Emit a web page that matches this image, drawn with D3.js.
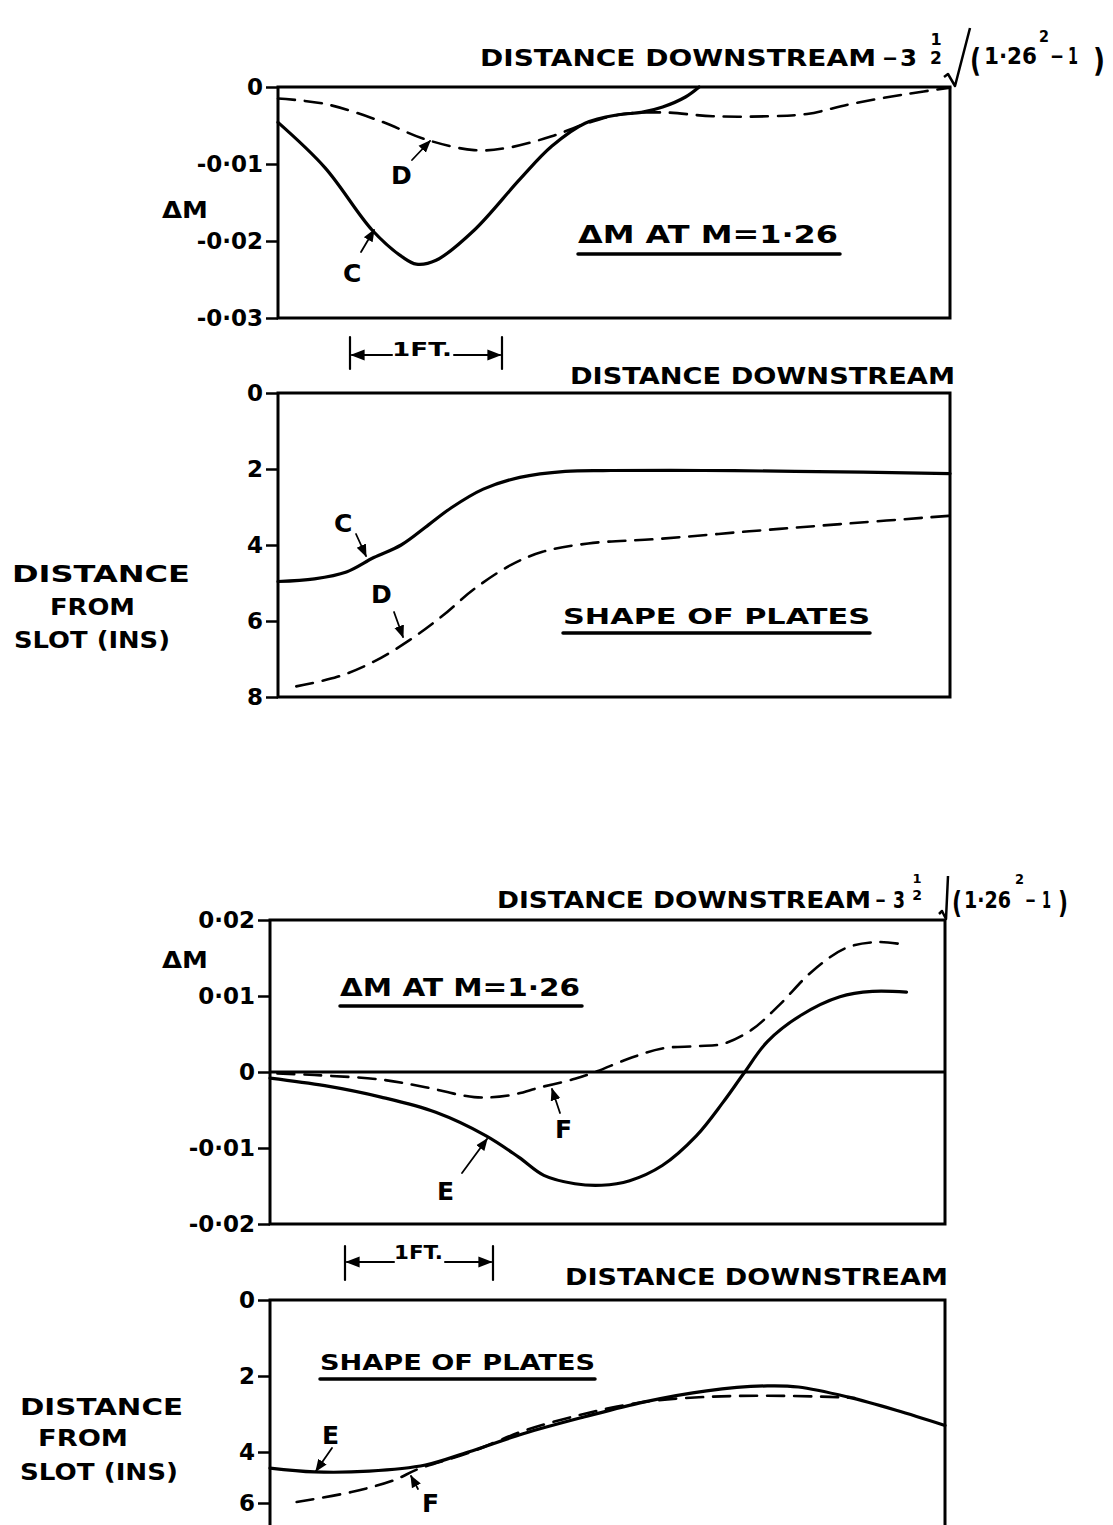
<!DOCTYPE html>
<html><head><meta charset="utf-8">
<script src="https://cdn.jsdelivr.net/npm/d3@7/dist/d3.min.js"></script>
<style>body{margin:0;background:#fff} svg{display:block}</style>
</head><body>
<svg id="c" width="1113" height="1525"></svg>
<script>
// ---------- DATA (x in feet downstream) ----------
// Panel 1: ΔM at M=1.26, curves C (solid) and D (dashed)
const p1_xC = [0,0.31,0.62,0.82,0.91,1.04,1.29,1.59,1.80,2.02,2.24,2.39,2.53,2.68,2.77];
const p1_C  = [-0.0046,-0.0105,-0.0186,-0.0221,-0.0230,-0.0225,-0.0186,-0.0120,-0.0077,-0.0047,-0.0036,-0.0033,-0.0026,-0.0013,0];
const p1_xD = [0,0.31,0.67,0.97,1.29,1.51,1.80,2.02,2.24,2.53,2.86,3.22,3.48,3.77,4.14,4.42];
const p1_D  = [-0.0015,-0.0022,-0.0044,-0.0068,-0.0082,-0.0079,-0.0064,-0.0048,-0.0036,-0.0033,-0.0038,-0.0038,-0.0035,-0.0022,-0.0009,-0.0001];
const p1_ticks = [0,-0.01,-0.02,-0.03];
const p1_tickLabels = ["0","-0·01","-0·02","-0·03"];

// Panel 2: shape of plates C (solid), D (dashed), distance from slot (ins)
const p2_xC = [0,0.24,0.45,0.63,0.81,0.99,1.14,1.35,1.59,1.89,2.19,2.80,3.40,4.42];
const p2_C  = [4.96,4.89,4.71,4.33,4.0,3.47,3.02,2.53,2.22,2.06,2.04,2.04,2.06,2.12];
const p2_xD = [0.12,0.39,0.63,0.87,1.08,1.29,1.53,1.74,2.04,2.50,3.10,3.70,4.42];
const p2_D  = [7.72,7.47,7.07,6.49,5.87,5.16,4.53,4.18,3.96,3.84,3.64,3.45,3.23];
const p2_ticks = [0,2,4,6,8];
const p2_tickLabels = ["0","2","4","6","8"];

// Panel 3: ΔM at M=1.26, curves E (solid) and F (dashed)
const p3_xE = [0,0.37,0.75,1.12,1.46,1.68,1.85,2.06,2.24,2.43,2.65,2.88,3.06,3.20,3.36,3.59,3.85,4.07,4.30];
const p3_E  = [-0.0008,-0.0018,-0.0033,-0.0053,-0.0084,-0.0112,-0.0136,-0.0147,-0.0149,-0.0143,-0.0123,-0.0084,-0.0040,-0.0002,0.0040,0.0075,0.0099,0.0106,0.0105];
const p3_xF = [0.05,0.30,0.75,1.05,1.38,1.61,1.83,2.06,2.21,2.43,2.65,2.88,3.06,3.25,3.44,3.66,3.89,4.11,4.30];
const p3_F  = [-0.0002,-0.0004,-0.0010,-0.0020,-0.0033,-0.0031,-0.0020,-0.0009,0.0001,0.0018,0.0031,0.0034,0.0037,0.0055,0.0088,0.0132,0.0163,0.0171,0.0167];
const p3_ticks = [0.02,0.01,0,-0.01,-0.02];
const p3_tickLabels = ["0·02","0·01","0","-0·01","-0·02"];

// Panel 4: shape of plates E (solid), F (dashed)  (hand-drawn axis: 6 tick closer to 4)
const p4_xE = [0,0.30,0.67,1.05,1.34,1.71,2.12,2.53,2.95,3.36,3.57,3.90,4.23,4.56];
const p4_E  = [4.63,4.78,4.75,4.51,4.0,3.52,3.08,2.68,2.39,2.26,2.29,2.55,2.90,3.30];
const p4_xF = [0.18,0.55,0.84,1.0,1.34,1.71,2.12,2.53,2.95,3.36,3.78,3.95];
const p4_F  = [5.96,5.57,5.10,4.67,4.04,3.45,3.00,2.68,2.55,2.52,2.55,2.58];
const p4_ticks = [0,2,4,6];
const p4_tickLabels = ["0","2","4","6"];

// ---------- DRAWING ----------
const svg = d3.select("#c");
const FONT = "'DejaVu Sans', sans-serif";
svg.append("defs").append("marker").attr("id","ah")
  .attr("viewBox","0 0 10 10").attr("refX",9).attr("refY",5)
  .attr("markerWidth",7).attr("markerHeight",7).attr("orient","auto")
  .append("path").attr("d","M0,1 L10,5 L0,9 z").attr("fill","#000");

function txt(x, y, s, size, opts = {}) {
  const t = svg.append("text").attr("x", x).attr("y", y).text(s)
    .attr("font-family", FONT).attr("font-weight", "bold")
    .attr("font-size", size).attr("fill", "#000")
    .attr("text-anchor", opts.anchor || "start");
  if (opts.w) t.attr("textLength", opts.w).attr("lengthAdjust", "spacingAndGlyphs");
  return t;
}
function line(x1, y1, x2, y2, w, arrow) {
  const l = svg.append("line").attr("x1",x1).attr("y1",y1).attr("x2",x2).attr("y2",y2)
    .attr("stroke","#000").attr("stroke-width",w).attr("stroke-linecap","round");
  if (arrow) l.attr("marker-end","url(#ah)");
  return l;
}

function panel(cfg) {
  const x = d3.scaleLinear().domain([0, cfg.xmax]).range([cfg.left, cfg.right]);
  const y = d3.scaleLinear().domain(cfg.ydom).range(cfg.yrange);
  const top = cfg.yrange[0], bottom = cfg.yrange[cfg.yrange.length - 1];
  const g = svg.append("g");
  g.append("rect").attr("x", cfg.left).attr("y", top)
    .attr("width", cfg.right - cfg.left).attr("height", bottom - top)
    .attr("fill", "none").attr("stroke", "#000").attr("stroke-width", 3);
  const ax = g.append("g").attr("transform", `translate(${cfg.left},0)`)
    .call(d3.axisLeft(y).tickValues(cfg.ticks)
      .tickFormat((d, i) => cfg.tickLabels[i]).tickSize(12).tickPadding(3));
  ax.select(".domain").remove();
  ax.selectAll(".tick line").attr("stroke", "#000").attr("stroke-width", 2.5);
  ax.selectAll(".tick text").attr("font-family", FONT).attr("font-weight", "bold")
    .attr("font-size", 23).attr("fill", "#000");
  if (cfg.zeroLine) {
    g.append("line").attr("x1", cfg.left).attr("x2", cfg.right)
      .attr("y1", y(0)).attr("y2", y(0)).attr("stroke", "#000").attr("stroke-width", 3);
  }
  const gen = d3.line().x(d => x(d[0])).y(d => y(d[1])).curve(d3.curveCatmullRom.alpha(0.5));
  cfg.series.forEach(s => {
    g.append("path").datum(d3.zip(s.x, s.y)).attr("d", gen)
      .attr("fill", "none").attr("stroke", "#000")
      .attr("stroke-width", s.dashed ? 2.6 : 3.2)
      .attr("stroke-dasharray", s.dashed ? "17,10" : null)
      .attr("stroke-linecap", "round");
  });
  return {x, y};
}

panel({xmax: 4.42, left: 278, right: 950, ydom: [0, -0.03], yrange: [87, 318],
  ticks: p1_ticks, tickLabels: p1_tickLabels,
  series: [{x: p1_xC, y: p1_C}, {x: p1_xD, y: p1_D, dashed: true}]});
panel({xmax: 4.42, left: 278, right: 950, ydom: [0, 8], yrange: [393, 697],
  ticks: p2_ticks, tickLabels: p2_tickLabels,
  series: [{x: p2_xC, y: p2_C}, {x: p2_xD, y: p2_D, dashed: true}]});
panel({xmax: 4.56, left: 270, right: 945, ydom: [0.02, -0.02], yrange: [920, 1224],
  ticks: p3_ticks, tickLabels: p3_tickLabels, zeroLine: true,
  series: [{x: p3_xE, y: p3_E}, {x: p3_xF, y: p3_F, dashed: true}]});
panel({xmax: 4.56, left: 270, right: 945, ydom: [0, 4, 6, 8], yrange: [1300, 1452, 1503, 1560],
  ticks: p4_ticks, tickLabels: p4_tickLabels,
  series: [{x: p4_xE, y: p4_E}, {x: p4_xF, y: p4_F, dashed: true}]});

// ---------- TITLES ----------
// top title
txt(480, 66, "DISTANCE  DOWNSTREAM", 23, {w: 396});
txt(882, 66, "−", 23, {w: 16});
txt(900, 66, "3", 23, {w: 17});
txt(936, 45, "1", 16, {anchor: "middle"});
txt(936, 64, "2", 17, {anchor: "middle"});
svg.append("path").attr("d", "M944,77 L948,74 L955,86 L970,28")
  .attr("fill", "none").attr("stroke", "#000").attr("stroke-width", 2.5).attr("stroke-linejoin", "round");
txt(970, 71, "(", 32, {w: 11});
txt(984, 64, "1·26", 23, {w: 53});
txt(1039, 42, "2", 16, {w: 10});
txt(1050, 64, "−", 23, {w: 14});
txt(1068, 64, "1", 23, {w: 10});
txt(1093, 71, ")", 32, {w: 12});
// lower title
txt(497, 908, "DISTANCE  DOWNSTREAM", 23, {w: 374});
txt(875, 908, "−", 23, {w: 11});
txt(893, 908, "3", 23, {w: 12});
txt(917, 883, "1", 13, {anchor: "middle"});
txt(917, 900, "2", 14, {anchor: "middle"});
svg.append("path").attr("d", "M939,914 L942,911 L946,919 L948,876")
  .attr("fill", "none").attr("stroke", "#000").attr("stroke-width", 2.5).attr("stroke-linejoin", "round");
txt(952, 913, "(", 30, {w: 10});
txt(964, 908, "1·26", 23, {w: 47});
txt(1015, 884, "2", 14, {w: 9});
txt(1025, 908, "−", 23, {w: 11});
txt(1042, 908, "1", 23, {w: 9});
txt(1058, 913, ")", 30, {w: 10});

txt(570, 384, "DISTANCE  DOWNSTREAM", 23, {w: 385});
txt(565, 1285, "DISTANCE  DOWNSTREAM", 23, {w: 383});

// ΔM labels
txt(162, 218, "ΔM", 23, {w: 46});
txt(162, 968, "ΔM", 23, {w: 46});

// Y axis labels of plate panels
txt(12, 582, "DISTANCE", 23, {w: 178});
txt(50, 615, "FROM", 23, {w: 85});
txt(14, 648, "SLOT (INS)", 23, {w: 156});
txt(20, 1415, "DISTANCE", 23, {w: 163});
txt(38, 1446, "FROM", 23, {w: 90});
txt(20, 1480, "SLOT (INS)", 23, {w: 158});

// Underlined captions
txt(578, 243, "ΔM  AT  M=1·26", 24, {w: 260});
line(578, 254, 840, 254, 3.5);
txt(563, 624, "SHAPE  OF  PLATES", 22, {w: 307});
line(563, 633, 870, 633, 3.5);
txt(340, 996, "ΔM  AT   M=1·26", 24, {w: 240});
line(340, 1006, 582, 1006, 3.5);
txt(320, 1370, "SHAPE  OF  PLATES", 22, {w: 275});
line(320, 1379, 595, 1379, 3.5);

// 1 FT scale bars
function ftBar(xa, xb, yl, yt, yb, tx0, tx1, tb) {
  line(xa, yt, xa, yb, 2.2);
  line(xb, yt, xb, yb, 2.2);
  line(tx0, yl, xa + 2, yl, 2, true);
  line(tx1 + 2, yl, xb - 2, yl, 2, true);
  txt(tx0, tb, "1FT.", 19, {w: tx1 - tx0});
}
ftBar(350, 502, 355, 337, 369, 392, 452, 356);
ftBar(345, 493, 1262, 1246, 1280, 394, 443, 1259);

// Curve labels with arrows
txt(343, 282, "C", 25); line(361, 252, 374, 230, 1.8, true);
txt(391, 184, "D", 25); line(412, 160, 430, 141, 1.8, true);
txt(334, 532, "C", 25); line(356, 534, 366, 556, 1.8, true);
txt(371, 603, "D", 25); line(394, 612, 403, 637, 1.8, true);
txt(555, 1138, "F", 25); line(560, 1113, 552, 1089, 1.8, true);
txt(437, 1200, "E", 25); line(462, 1173, 487, 1139, 1.8, true);
txt(322, 1444, "E", 25); line(332, 1448, 316, 1471, 1.8, true);
txt(422, 1512, "F", 25); line(418, 1489, 411, 1476, 1.8, true);
</script>
</body></html>
